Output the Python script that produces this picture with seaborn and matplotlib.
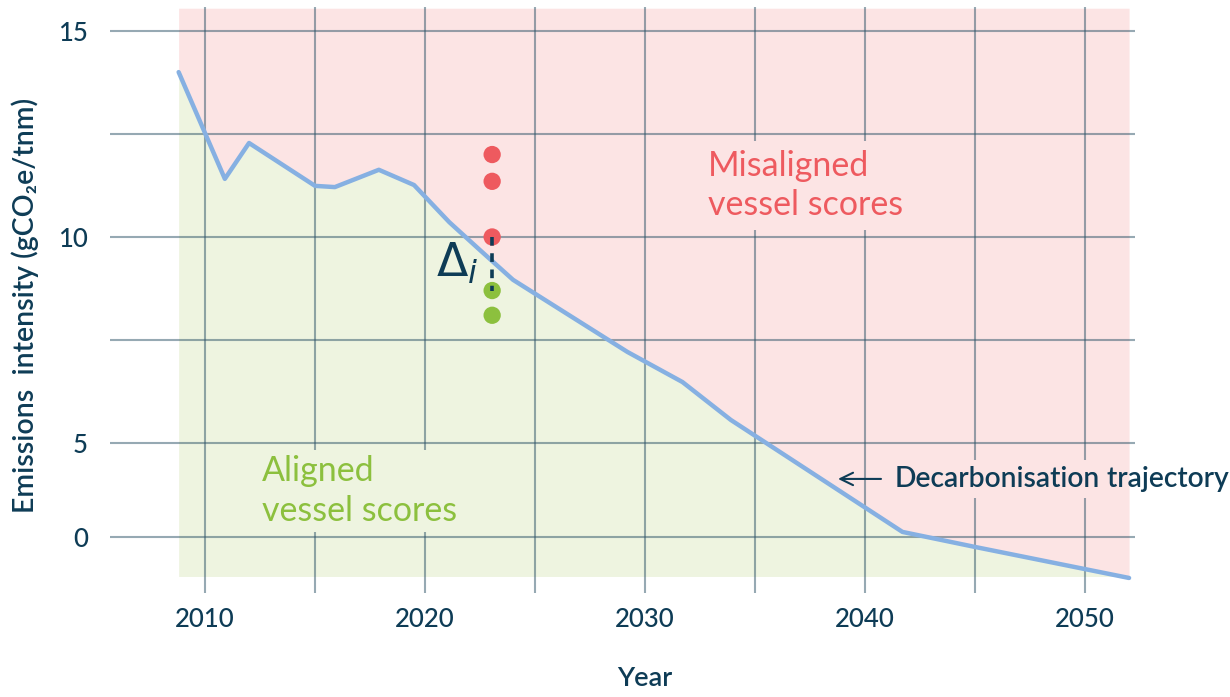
import numpy as np
import pandas as pd
import matplotlib
matplotlib.use("Agg")
import matplotlib.pyplot as plt
import seaborn as sns

# ---------------- data ----------------
years = [2008.8, 2010.9, 2012.0, 2015.0, 2015.9, 2017.9, 2019.5, 2021.1,
         2022.5, 2024.0, 2029.2, 2031.7, 2033.9, 2041.7, 2045.0, 2052.0]
intensity = [14.0, 11.41, 12.28, 11.24, 11.21, 11.63, 11.26, 10.36,
             9.68, 8.96, 7.21, 6.48, 5.56, 0.27, -0.53, -2.18]

vessel_year = 2023.05
vessel_scores = [12.0, 11.35, 10.0, 8.7, 8.1]
vessel_status = ["Misaligned", "Misaligned", "Misaligned", "Aligned", "Aligned"]

delta_from = 10.0
delta_to = 8.7

xtick_major = [2010, 2020, 2030, 2040, 2050]
xtick_minor = [2015, 2025, 2035, 2045]
ytick_major = [15, 10, 5, 0]
ytick_labels = ["15", "10", "5", "0"]
ytick_minor = [12.5, 7.5]

fill_top = 15.55
fill_bottom = -2.1

# ---------------- style ----------------
NAVY = "#0E3C56"
BLUE = "#86B0E2"
RED = "#EE5A5F"
GREEN = "#8CC03E"
PINK_BG = "#FCE4E4"
GREEN_BG = "#EEF4E0"
GRID = "#2E5468"

sns.set_theme(style="white")
plt.rcParams["font.family"] = ["Lato", "DejaVu Sans"]

# piecewise scale: values below 5 are compressed
K = 0.456


def fwd(v):
    v = np.asarray(v, dtype=float)
    return np.where(v >= 5, v, 5 + (v - 5) * K)


def inv(u):
    u = np.asarray(u, dtype=float)
    return np.where(u >= 5, u, 5 + (u - 5) / K)


fig = plt.figure(figsize=(12.3, 6.97), dpi=100)
ax = fig.add_axes([110 / 1230, 1 - 593 / 697, 1025 / 1230, 586 / 697])
ax.set_yscale("function", functions=(fwd, inv))
ax.set_xlim(2005.68, 2052.27)
ax.set_ylim(-2.98, 15.58)

# background regions
ax.fill_between(years, intensity, fill_top, color=PINK_BG, lw=0, zorder=1)
ax.fill_between(years, fill_bottom, intensity, color=GREEN_BG, lw=0, zorder=1)

# trajectory line
sns.lineplot(x=years, y=intensity, color=BLUE, lw=3.2, sort=False,
             ax=ax, zorder=3)

# vessel scores
df = pd.DataFrame({"year": [vessel_year] * len(vessel_scores),
                   "score": vessel_scores, "status": vessel_status})
sns.scatterplot(data=df, x="year", y="score", hue="status",
                palette={"Misaligned": RED, "Aligned": GREEN},
                s=155, linewidth=0, legend=False, ax=ax, zorder=5)

ax.plot([vessel_year, vessel_year], [delta_from, delta_to], color=NAVY,
        lw=2.6, ls=(0, (2.4, 2.1)), zorder=6, solid_capstyle="butt")
ax.text(2022.45, 9.03, r"$\Delta_i$", fontsize=33, color=NAVY,
        ha="right", va="baseline", zorder=6)

# grid / ticks
ax.set_axisbelow("line")
ax.set_xticks(xtick_major)
ax.set_xticks(xtick_minor, minor=True)
ax.set_yticks(ytick_major)
ax.set_yticklabels(ytick_labels)
ax.set_yticks(ytick_minor, minor=True)
ax.set_yticklabels([], minor=True)
ax.grid(True, which="both", color=GRID, lw=1.5, alpha=0.5)
for s in ax.spines.values():
    s.set_visible(False)
ax.tick_params(axis="both", which="both", length=0, labelsize=18.5,
               labelcolor=NAVY)
ax.tick_params(axis="x", pad=10)
ax.tick_params(axis="y", pad=16)
for lab in ax.get_xticklabels() + ax.get_yticklabels():
    lab.set_fontweight("medium")

ax.set_xlabel("Year", fontsize=19.5, color=NAVY, fontweight="semibold")
ax.xaxis.set_label_coords(0.522, -0.125)
ax.set_ylabel("Emissions  intensity (gCO\u2082e/tnm)", fontsize=20.5,
              color=NAVY, fontweight="semibold", va="center")
ax.yaxis.set_label_coords(-0.083, 0.491)

# region annotations
ax.text(2032.86, 11.25, "Misaligned\nvessel scores", fontsize=24.5, color=RED,
        ha="left", va="center", linespacing=1.3, zorder=4,
        bbox=dict(fc=PINK_BG, ec="none", pad=6))
ax.text(2012.59, 2.45, "Aligned\nvessel scores", fontsize=24.5, color=GREEN,
        ha="left", va="center", linespacing=1.3, zorder=4,
        bbox=dict(fc=GREEN_BG, ec="none", pad=4))

ann = ax.annotate("Decarbonisation", xy=(2038.77, 3.09),
                  xytext=(2041.36, 3.09), textcoords="data",
                  fontsize=20.3, color=NAVY, fontweight="semibold",
                  ha="left", va="center", zorder=4,
                  bbox=dict(fc=PINK_BG, ec="none", pad=4),
                  arrowprops=dict(arrowstyle="->,head_length=0.45,head_width=0.22",
                                  color=NAVY, lw=1.5, shrinkA=6, shrinkB=0))
ax.annotate(" trajectory", xy=(1, 0.5), xycoords=ann, fontsize=20.3,
            color=NAVY, fontweight="semibold", ha="left", va="center",
            zorder=4, annotation_clip=False)

fig.savefig("out.png", dpi=100)
